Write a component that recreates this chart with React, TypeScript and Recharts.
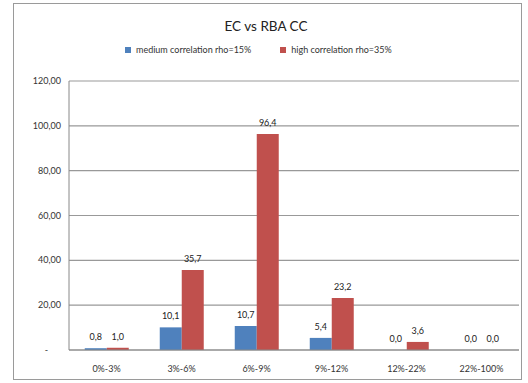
import { BarChart, Bar, XAxis, YAxis, CartesianGrid, LabelList } from "recharts";

const categories = ["0%-3%", "3%-6%", "6%-9%", "9%-12%", "12%-22%", "22%-100%"];
const mediumRho15 = [0.8, 10.1, 10.7, 5.4, 0.0, 0.0];
const highRho35 = [1.0, 35.7, 96.4, 23.2, 3.6, 0.0];
const yTicks = [0, 20, 40, 60, 80, 100, 120];

const BLUE = "#4F81BD";
const RED = "#C0504D";
const FONT = "Lato, 'Open Sans', sans-serif";

const data = categories.map((c, i) => ({
  cat: c,
  medium: mediumRho15[i],
  high: highRho35[i],
}));

const fmtY = (v: number) => (v === 0 ? "-" : v.toFixed(2).replace(".", ","));
const fmtLabel = (v: any) => Number(v).toFixed(1).replace(".", ",");
// tiny min size so zero bars still get their "0,0" label
const minSize = (v: any) => (Number(v) === 0 ? 0.01 : 0);

function YTick(props: any) {
  const { x, y, payload } = props;
  const zero = payload.value === 0;
  return (
    <text x={zero ? x - 13 : x} y={y} dy={3} textAnchor="end" fontSize={9} fill="#333" fontFamily={FONT}>
      {fmtY(payload.value)}
    </text>
  );
}

export default function App() {
  return (
    <div style={{ position: "absolute", left: 0, top: 0, width: 528, height: 383, background: "#fff", fontFamily: FONT }}>
      <div style={{ position: "absolute", left: 13, top: 3, width: 509, height: 377, border: "1px solid #9a9a9a", boxSizing: "border-box" }} />
      <div style={{ position: "absolute", left: 0, width: 532, top: 18, textAlign: "center", fontSize: 13.5, color: "#222" }}>
        EC vs RBA CC
      </div>
      <div style={{ position: "absolute", top: 44, left: 125, fontSize: 9, color: "#333", display: "flex", alignItems: "center" }}>
        <span style={{ display: "inline-block", width: 6, height: 6, background: BLUE, marginRight: 5 }} />
        <span>medium correlation rho=15%</span>
        <span style={{ display: "inline-block", width: 6, height: 6, background: RED, marginLeft: 29, marginRight: 5 }} />
        <span>high correlation rho=35%</span>
      </div>
      <div style={{ position: "absolute", left: 0, top: 0 }}>
        <BarChart
          width={528}
          height={383}
          data={data}
          margin={{ top: 81, right: 9, left: 9, bottom: 8 }}
          barCategoryGap="21%"
          barGap={0}
        >
          <CartesianGrid vertical={false} stroke="#999" strokeWidth={1.2} />
          <XAxis
            dataKey="cat"
            height={25}
            tickLine={false}
            axisLine={{ stroke: "#888" }}
            tick={{ fontSize: 9, fill: "#333", fontFamily: FONT }}
            tickMargin={10}
            interval={0}
          />
          <YAxis
            width={60}
            domain={[0, 120]}
            ticks={yTicks}
            tickLine={false}
            axisLine={{ stroke: "#888" }}
            tick={<YTick />}
          />
          <Bar dataKey="medium" fill={BLUE} minPointSize={minSize} isAnimationActive={false}>
            <LabelList dataKey="medium" position="top" offset={8} formatter={fmtLabel} style={{ fontSize: 9, fill: "#222", fontFamily: FONT }} />
          </Bar>
          <Bar dataKey="high" fill={RED} minPointSize={minSize} isAnimationActive={false}>
            <LabelList dataKey="high" position="top" offset={8} formatter={fmtLabel} style={{ fontSize: 9, fill: "#222", fontFamily: FONT }} />
          </Bar>
        </BarChart>
      </div>
    </div>
  );
}
